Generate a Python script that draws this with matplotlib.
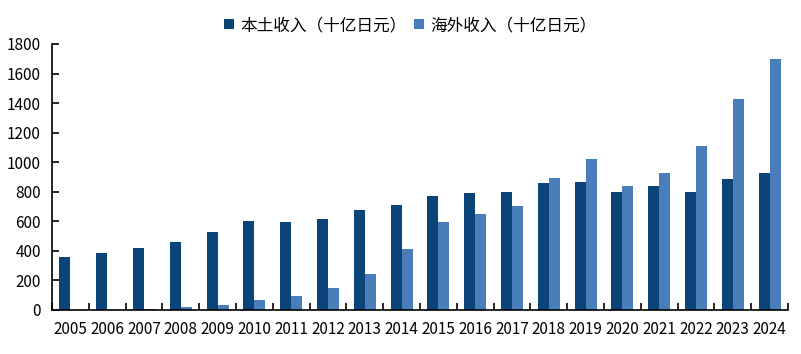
import numpy as np
import matplotlib
matplotlib.use("Agg")
import matplotlib.pyplot as plt

plt.rcParams['font.family'] = ['Noto Sans CJK SC', 'DejaVu Sans']

years = [str(y) for y in range(2005, 2025)]
domestic = [362, 388, 421, 460, 530, 600, 595, 614, 679, 712,
            773, 789, 800, 857, 864, 798, 837, 800, 884, 925]
overseas = [0, 2, 10, 20, 35, 68, 93, 151, 243, 412,
            598, 652, 706, 893, 1020, 841, 927, 1112, 1430, 1698]
labels = ['本土收入（十亿日元）', '海外收入（十亿日元）']
colors = ['#0b4479', '#4a7ebb']

fig = plt.figure(figsize=(8.01, 3.54), dpi=100)
ax = fig.add_axes([52/801, 1-310/354, 736/801, 266/354])

x = np.arange(len(years))
w = 0.3
ax.bar(x - w/2, domestic, w, color=colors[0], label=labels[0])
ax.bar(x + w/2, overseas, w, color=colors[1], label=labels[1])

ax.set_xlim(-0.5, len(years) - 0.5)
ax.set_ylim(0, 1800)
ax.set_yticks(range(0, 1801, 200))
ax.set_xticks(x)
ax.set_xticklabels(years)
ax.set_xticks(np.arange(-0.5, len(years)), minor=True)
ax.tick_params(axis='x', which='major', length=0, labelsize=11, pad=8)
ax.tick_params(axis='x', which='minor', direction='in', length=5, width=1.2)
ax.tick_params(axis='y', direction='in', length=5, width=1.2, labelsize=11, pad=8)

for s in ['top', 'right']:
    ax.spines[s].set_visible(False)
for s in ['left', 'bottom']:
    ax.spines[s].set_linewidth(1.2)

ax.legend(loc='lower center', bbox_to_anchor=(0.487, 1.0), ncol=2, frameon=False,
          fontsize=12, handlelength=0.6, handleheight=0.6, handletextpad=0.4,
          columnspacing=0.4, borderaxespad=0.2)

fig.savefig('out.png', dpi=100)
